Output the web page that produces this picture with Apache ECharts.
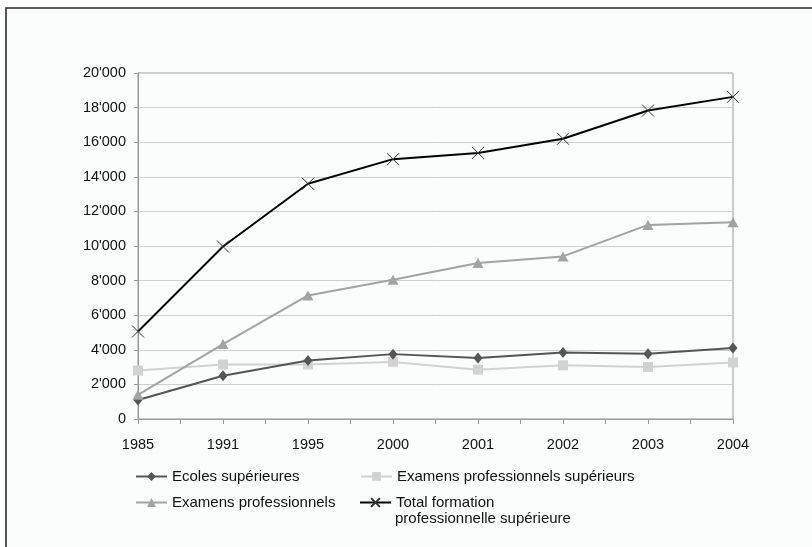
<!DOCTYPE html>
<html>
<head>
<meta charset="utf-8">
<script src="https://cdn.jsdelivr.net/npm/echarts@6/dist/echarts.min.js"></script>
<style>
html,body{margin:0;padding:0;background:#fff;}
#c{width:812px;height:547px;}
</style>
</head>
<body>
<div id="c"></div>
<script>
const categories = ['1985','1991','1995','2000','2001','2002','2003','2004'];
const ecolesSup = [1100, 2500, 3380, 3750, 3520, 3850, 3770, 4100];
const examProfSup = [2800, 3150, 3150, 3300, 2850, 3100, 3000, 3270];
const examProf = [1400, 4330, 7140, 8050, 9020, 9400, 11220, 11370];
const totalFormation = [5060, 9970, 13600, 15020, 15380, 16200, 17830, 18620];
const yTicks = [0, 2000, 4000, 6000, 8000, 10000, 12000, 14000, 16000, 18000, 20000];
const seriesNames = ['Ecoles supérieures', 'Examens professionnels supérieurs', 'Examens professionnels', 'Total formation professionnelle supérieure'];

const minorCats = [];
categories.forEach((c, i) => { minorCats.push(c); if (i < categories.length - 1) minorCats.push(c + '_m'); });

const FONT = '"Liberation Sans", Arial, sans-serif';
const chart = echarts.init(document.getElementById('c'), null, {renderer: 'canvas'});

function fmt(v) {
  const s = String(v);
  return s.length > 3 ? s.slice(0, s.length - 3) + "'" + s.slice(-3) : s;
}

const legendBase = {
  itemWidth: 31, itemHeight: 11, itemGap: 0,
  textStyle: {fontFamily: FONT, fontSize: 15, color: '#111'},
  selectedMode: false, padding: 0
};

const option = {
  backgroundColor: '#ffffff',
  animation: false,
  graphic: [
    {type: 'rect', z: -10, shape: {x: 6, y: 8, width: 900, height: 700},
     style: {fill: '#fbfcfc', stroke: '#2a2a2a', lineWidth: 1.6}},
    {type: 'text', left: 395, top: 511,
     style: {text: 'professionnelle supérieure', font: '15px ' + FONT, fill: '#111'}}
  ],
  grid: {left: 138, top: 73, width: 595, height: 346, show: true, borderColor: '#9a9a9a', borderWidth: 1, backgroundColor: 'transparent'},
  legend: [
    Object.assign({}, legendBase, {data: [seriesNames[0]], left: 135, top: 469}),
    Object.assign({}, legendBase, {data: [seriesNames[1]], left: 360, top: 469}),
    Object.assign({}, legendBase, {data: [seriesNames[2]], left: 135, top: 495}),
    Object.assign({}, legendBase, {data: [seriesNames[3]], left: 359, top: 495, formatter: () => 'Total formation'})
  ],
  xAxis: [
    {type: 'category', data: categories, boundaryGap: false,
     axisLine: {lineStyle: {color: '#9a9a9a', width: 1}},
     axisTick: {show: false},
     axisLabel: {fontFamily: FONT, fontSize: 14.5, color: '#111', margin: 18},
     splitLine: {show: false}},
    {type: 'category', data: minorCats, boundaryGap: false, position: 'bottom',
     axisLine: {show: false},
     axisTick: {show: true, interval: 0, length: 5, lineStyle: {color: '#9a9a9a'}},
     axisLabel: {show: false}, splitLine: {show: false}}
  ],
  yAxis: {
    type: 'value', min: 0, max: 20000, interval: 2000,
    axisLine: {show: true, lineStyle: {color: '#9a9a9a'}},
    axisTick: {show: true, length: 4, lineStyle: {color: '#9a9a9a'}},
    axisLabel: {fontFamily: FONT, fontSize: 14.5, color: '#111', margin: 12,
      formatter: (v) => yTicks.indexOf(v) >= 0 ? fmt(v) : ''},
    splitLine: {lineStyle: {color: '#cfcfcf', width: 1}}
  },
  series: [
    {name: seriesNames[0], type: 'line', data: ecolesSup, symbol: 'diamond', symbolSize: [9, 11],
     lineStyle: {color: '#555', width: 2}, itemStyle: {color: '#555'}, z: 3},
    {name: seriesNames[1], type: 'line', data: examProfSup, symbol: 'rect', symbolSize: 10,
     lineStyle: {color: '#d2d2d2', width: 2}, itemStyle: {color: '#d2d2d2'}, z: 2},
    {name: seriesNames[2], type: 'line', data: examProf, symbol: 'triangle', symbolSize: [11, 10],
     lineStyle: {color: '#a3a3a3', width: 2}, itemStyle: {color: '#a3a3a3'}, z: 4},
    {name: seriesNames[3], type: 'line', data: totalFormation, symbol: 'path://M0,0L10,10M10,0L0,10', symbolSize: 12,
     lineStyle: {color: '#000', width: 2}, itemStyle: {color: 'none', borderColor: '#333', borderWidth: 1}, z: 5}
  ]
};
chart.setOption(option);
</script>
</body>
</html>
